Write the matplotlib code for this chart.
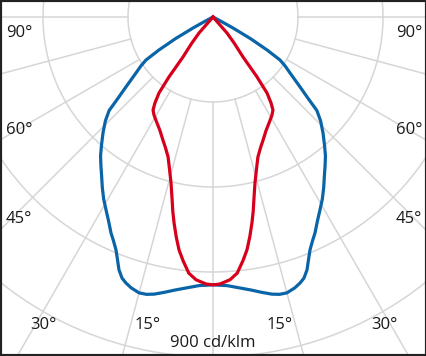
import numpy as np
import matplotlib
matplotlib.use("Agg")
import matplotlib.pyplot as plt

# intensity values in cd/klm, angle from nadir in degrees (symmetric curves)
blue_angles = [0, 3, 6, 8, 10, 12, 13.5, 15, 16.8, 18.1, 19.2, 20.4, 21.5, 22.6, 24, 25.3, 27, 29,
               31, 33, 35, 37, 39, 41, 43.5, 46, 48, 49.5, 51.2, 54, 55.8, 57.3, 58.6, 60, 61.2, 62, 63]
blue_values = [709, 712, 722, 730, 740, 750, 755, 756, 749, 741, 732, 714, 690, 668, 648, 632, 608, 584,
               562, 538, 514, 493, 473, 450, 423, 396, 370, 330, 296, 252, 231, 211, 168, 115, 60, 20, 0]

red_angles = [0, 1.5, 3.7, 5.4, 7, 8.3, 9.5, 10.7, 11.7, 12.6, 14.2, 16, 17.8, 20, 22.1, 25, 29,
              31, 32.8, 34, 35.4, 36.3, 36.9, 39, 41.2, 44.5]
red_values = [709, 707, 697, 681, 650, 623, 590, 555, 525, 496, 453, 418, 389, 368, 352, 332, 312,
              303, 293, 275, 247, 197, 132, 90, 56, 0]

ring_values = [225, 450, 675, 900]
ray_angles = [-90, -75, -60, -45, -30, -15, 0, 15, 30, 45, 60, 75, 90]
scale_label = "900 cd/klm"

W, H = 427, 356
cx, cy = 213, 17          # pole position in pixels
px = 900 / 340            # cd/klm per pixel

def to_xy(angles, values):
    a = np.radians(np.concatenate([-np.array(angles)[::-1], np.array(angles)[1:]]))
    v = np.concatenate([np.array(values)[::-1], np.array(values)[1:]])
    return v * np.sin(a), -v * np.cos(a)

fig = plt.figure(figsize=(W / 100, H / 100), dpi=100)
ax = fig.add_axes([0, 0, 1, 1])
ax.set_xlim(-cx * px, (W - cx) * px)
ax.set_ylim(-(H - cy) * px, cy * px)
ax.set_aspect("equal")
ax.set_xticks([])
ax.set_yticks([])

grid_col = "#d6d6d6"
t = np.linspace(0, 2 * np.pi, 400)
for r in ring_values:
    ax.plot(r * np.cos(t), r * np.sin(t), color=grid_col, lw=1.1, zorder=1)
for ang in ray_angles:
    a = np.radians(ang)
    r0, r1 = ring_values[0], 2000
    ax.plot([r0 * np.sin(a), r1 * np.sin(a)], [-r0 * np.cos(a), -r1 * np.cos(a)],
            color=grid_col, lw=1.1, zorder=1)

bx, by = to_xy(blue_angles, blue_values)
rx, ry = to_xy(red_angles, red_values)
ax.plot(bx, by, color="#0a64a8", lw=2.3, zorder=3, solid_joinstyle="round")
ax.plot(rx, ry, color="#d6001c", lw=2.3, zorder=4, solid_joinstyle="round")

for s in ax.spines.values():
    s.set_color("#222222")
    s.set_linewidth(3)

labels = [("90°", 19, 33), ("90°", 409, 33), ("60°", 19, 130), ("60°", 409, 130),
          ("45°", 19, 219), ("45°", 409, 219), ("30°", 43, 325), ("30°", 384, 325),
          ("15°", 148, 325), ("15°", 280, 325), (scale_label, 213, 343)]
for txt, x, y in labels:
    fig.text(x / W, 1 - y / H, txt, ha="center", va="center", fontsize=12,
             family="Open Sans", color="#1a1a1a")

fig.savefig("out.png", dpi=100)
